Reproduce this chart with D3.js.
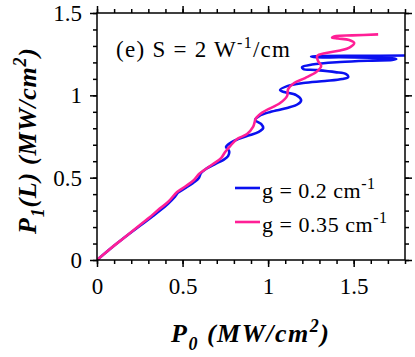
<!DOCTYPE html>
<html>
<head>
<meta charset="utf-8">
<script src="https://cdn.jsdelivr.net/npm/d3@7"></script>
</head>
<body style="margin:0; background:#fff">
<svg id="chart" width="415" height="357"></svg>
<script>
// tick values
const xMajor = [0, 0.5, 1, 1.5];
const yMajor = [0, 0.5, 1, 1.5];
const xMinor = d3.range(0, 1.81, 0.1);
const yMinor = d3.range(0, 1.51, 0.1);

// g = 0.2 cm^-1 (blue)
const blueX = [0, 0.076, 0.164, 0.251, 0.322, 0.368, 0.415, 0.456, 0.474, 0.520, 0.573, 0.596, 0.608, 0.637,
  0.690, 0.737, 0.766, 0.772, 0.754, 0.778, 0.825, 0.895, 0.942, 0.971, 0.959, 0.924, 0.947, 1.012, 1.111,
  1.175, 1.193, 1.164, 1.094, 1.070, 1.111, 1.205, 1.333, 1.433, 1.468, 1.456, 1.392, 1.275, 1.205, 1.199,
  1.257, 1.421, 1.608, 1.725, 1.749, 1.725, 1.596, 1.421, 1.281, 1.251, 1.316, 1.538, 1.810];
const blueY = [0, 0.067, 0.140, 0.208, 0.263, 0.300, 0.342, 0.385, 0.409, 0.439, 0.476, 0.500, 0.528, 0.553,
  0.583, 0.607, 0.631, 0.662, 0.686, 0.710, 0.735, 0.759, 0.777, 0.801, 0.826, 0.850, 0.874, 0.899, 0.923,
  0.947, 0.971, 1.002, 1.020, 1.032, 1.056, 1.075, 1.087, 1.099, 1.111, 1.129, 1.141, 1.154, 1.160, 1.172,
  1.187, 1.202, 1.211, 1.215, 1.220, 1.225, 1.228, 1.231, 1.231, 1.236, 1.239, 1.240, 1.242];

// g = 0.35 cm^-1 (pink)
const pinkX = [0, 0.076, 0.164, 0.251, 0.310, 0.357, 0.415, 0.468, 0.520, 0.567, 0.596, 0.626, 0.678, 0.725,
  0.749, 0.778, 0.819, 0.877, 0.912, 0.930, 0.971, 1.070, 1.111, 1.117, 1.152, 1.216, 1.281, 1.310, 1.292,
  1.287, 1.339, 1.421, 1.480, 1.503, 1.474, 1.409, 1.374, 1.398, 1.491, 1.643];
const pinkY = [0, 0.067, 0.140, 0.213, 0.261, 0.304, 0.352, 0.413, 0.449, 0.486, 0.522, 0.546, 0.583, 0.619,
  0.656, 0.692, 0.735, 0.765, 0.808, 0.862, 0.899, 0.953, 0.996, 1.038, 1.075, 1.105, 1.141, 1.178, 1.208,
  1.239, 1.257, 1.272, 1.293, 1.318, 1.336, 1.345, 1.351, 1.360, 1.364, 1.370];

const svg = d3.select("#chart");
const pLeft = 97, pRight = 405, pTop = 13, pBottom = 260;
const serif = "'Liberation Serif', serif";

const x = d3.scaleLinear().domain([0, 1.8]).range([pLeft, pRight]);
const y = d3.scaleLinear().domain([0, 1.5]).range([pBottom, pTop]);

// clip
svg.append("defs").append("clipPath").attr("id", "clip")
  .append("rect").attr("x", pLeft).attr("y", pTop)
  .attr("width", pRight - pLeft).attr("height", pBottom - pTop);

// axes: minor then major, all ticks outward
function drawAxis(axisFn, scale, vals, size, transform, pad) {
  const ax = axisFn(scale).tickValues(vals).tickSize(size).tickSizeOuter(0);
  if (!pad) ax.tickFormat("");
  else ax.tickFormat(d3.format("~g")).tickPadding(pad);
  const g = svg.append("g").attr("transform", transform).call(ax);
  g.select(".domain").remove();
  g.selectAll(".tick line").attr("stroke", "#000").attr("stroke-width", 1.5);
  g.selectAll("text").attr("fill", "#000")
    .style("font-family", serif).style("font-size", "23px");
  return g;
}
drawAxis(d3.axisBottom, x, xMinor, 4, `translate(0,${pBottom})`, 0);
drawAxis(d3.axisBottom, x, xMajor, 7, `translate(0,${pBottom})`, 11);
drawAxis(d3.axisTop, x, xMinor, 4, `translate(0,${pTop})`, 0);
drawAxis(d3.axisTop, x, xMajor, 7, `translate(0,${pTop})`, 0);
drawAxis(d3.axisLeft, y, yMinor, 4, `translate(${pLeft},0)`, 0);
drawAxis(d3.axisLeft, y, yMajor, 7, `translate(${pLeft},0)`, 8);
drawAxis(d3.axisRight, y, yMinor, 4, `translate(${pRight},0)`, 0);
drawAxis(d3.axisRight, y, yMajor, 7, `translate(${pRight},0)`, 0);

// curves
const line = d3.line()
  .x(d => x(d[0]))
  .y(d => y(d[1]))
  .curve(d3.curveCatmullRom.alpha(0.5));

const series = [
  { name: "g = 0.2 cm", xs: blueX, ys: blueY, color: "#0a10f0", len: 113 },
  { name: "g = 0.35 cm", xs: pinkX, ys: pinkY, color: "#ff1f96", len: 125 }
];

series.forEach(s => {
  svg.append("path")
    .datum(s.xs.map((v, i) => [v, s.ys[i]]))
    .attr("clip-path", "url(#clip)")
    .attr("d", line)
    .attr("fill", "none")
    .attr("stroke", s.color)
    .attr("stroke-width", 2.6)
    .attr("stroke-linejoin", "round");
});

// frame
svg.append("rect")
  .attr("x", pLeft).attr("y", pTop)
  .attr("width", pRight - pLeft).attr("height", pBottom - pTop)
  .attr("fill", "none").attr("stroke", "#000").attr("stroke-width", 1.5);

// annotation
const ann = svg.append("text").attr("x", 116).attr("y", 57)
  .attr("textLength", 174).attr("lengthAdjust", "spacing")
  .style("font-family", serif).style("font-size", "23px");
ann.append("tspan").text("(e) S = 2 W");
ann.append("tspan").style("font-size", "16px").attr("dy", -9).text("-1");
ann.append("tspan").attr("dy", 9).text("/cm");

// legend
const legend = svg.append("g");
series.forEach((s, i) => {
  const ly = 188 + i * 34;
  legend.append("line")
    .attr("x1", 235).attr("x2", 260).attr("y1", ly).attr("y2", ly)
    .attr("stroke", s.color).attr("stroke-width", 2.6);
  const t = legend.append("text").attr("x", 262).attr("y", ly + 10)
    .attr("textLength", s.len).attr("lengthAdjust", "spacing")
    .style("font-family", serif).style("font-size", "22px");
  t.append("tspan").text(s.name);
  t.append("tspan").style("font-size", "16px").attr("dy", -9).text("-1");
});

// x axis title
const xt = svg.append("text")
  .attr("x", 171).attr("y", 342)
  .attr("textLength", 158).attr("lengthAdjust", "spacing")
  .style("font-family", serif).style("font-size", "26px")
  .style("font-weight", "bold").style("font-style", "italic");
xt.append("tspan").text("P");
xt.append("tspan").style("font-size", "18px").attr("dy", 8).text("0");
xt.append("tspan").attr("dy", -8).text(" (MW/cm");
xt.append("tspan").style("font-size", "18px").attr("dy", -10).text("2");
xt.append("tspan").attr("dy", 10).text(")");

// y axis title
const yt = svg.append("text")
  .attr("transform", "translate(36,234) rotate(-90)")
  .attr("textLength", 186).attr("lengthAdjust", "spacing")
  .style("font-family", serif).style("font-size", "26px")
  .style("font-weight", "bold").style("font-style", "italic");
yt.append("tspan").text("P");
yt.append("tspan").style("font-size", "18px").attr("dy", 8).text("1");
yt.append("tspan").attr("dy", -8).text("(L) (MW/cm");
yt.append("tspan").style("font-size", "18px").attr("dy", -10).text("2");
yt.append("tspan").attr("dy", 10).text(")");
</script>
</body>
</html>
